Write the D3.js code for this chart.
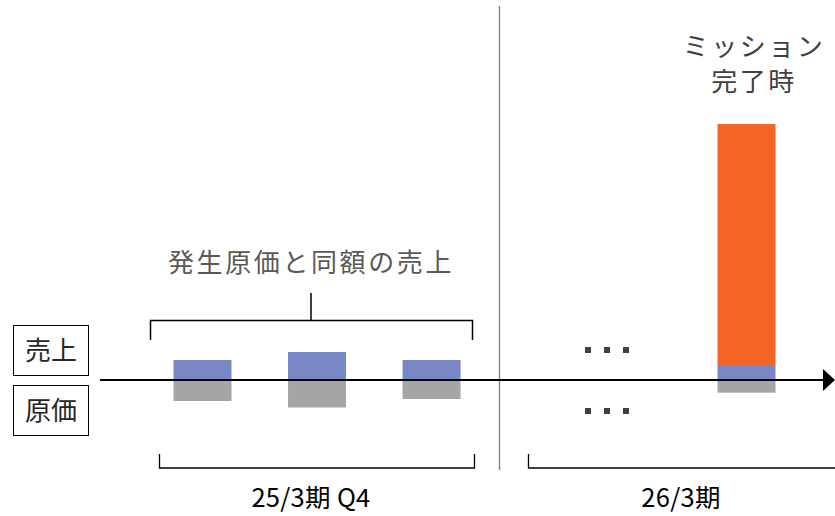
<!DOCTYPE html>
<html><head><meta charset="utf-8">
<script src="https://cdn.jsdelivr.net/npm/d3@7"></script>
<style>html,body{margin:0;padding:0;background:#fff;} svg{display:block;}</style>
</head><body>
<svg id="c" width="835" height="516"></svg>
<script>
// ---- data ----
const categories = ["Q4-1", "Q4-2", "Q4-3", "ミッション完了時"];
const periodOffset = [0, 1, 2, 4.75];           // category position along the time axis
const revenue = [20, 28, 20, 15];                // 売上 (blue, above axis)
const missionRevenue = [0, 0, 0, 241];           // mission completion revenue (orange)
const cost = [21, 27.5, 19, 12.7];               // 原価 (gray, below axis)
const rowLabels = ["売上", "原価"];
const periodLabels = ["25/3期 Q4", "26/3期"];
const bracketLabel = "発生原価と同額の売上";
const missionLabel = ["ミッション", "完了時"];

const svg = d3.select("#c");
const FONT = "'Noto Sans CJK JP', 'Noto Sans', sans-serif";

const x = d3.scaleLinear().domain([0, 4.75]).range([202.5, 746.5]);
const y = d3.scaleLinear().domain([0, 256]).range([380, 124]);
const barW = 58;

// vertical divider
svg.append("line").attr("x1", 499.5).attr("x2", 499.5).attr("y1", 6).attr("y2", 470)
  .attr("stroke", "#808080").attr("stroke-width", 1.3);

// bars
const g = svg.append("g");
categories.forEach((c, i) => {
  const cx = x(periodOffset[i]);
  g.append("rect").attr("x", cx - barW / 2).attr("width", barW)
    .attr("y", y(revenue[i])).attr("height", y(0) - y(revenue[i])).attr("fill", "#7788c4");
  if (missionRevenue[i] > 0) {
    g.append("rect").attr("x", cx - barW / 2).attr("width", barW)
      .attr("y", y(revenue[i] + missionRevenue[i])).attr("height", y(revenue[i]) - y(revenue[i] + missionRevenue[i]))
      .attr("fill", "#f26524");
  }
  g.append("rect").attr("x", cx - barW / 2).attr("width", barW)
    .attr("y", y(0)).attr("height", y(0) - y(cost[i])).attr("fill", "#a5a5a5");
});

// axis with arrow
svg.append("line").attr("x1", 100).attr("x2", 824).attr("y1", y(0)).attr("y2", y(0))
  .attr("stroke", "#000").attr("stroke-width", 1.8);
svg.append("path").attr("d", `M823,${y(0) - 11} L835,${y(0)} L823,${y(0) + 11} Z`).attr("fill", "#000");

// row labels boxes
rowLabels.forEach((t, i) => {
  const top = 325 + i * 60;
  svg.append("rect").attr("x", 13.5).attr("y", top + 0.5).attr("width", 75).attr("height", 50)
    .attr("fill", "none").attr("stroke", "#000").attr("stroke-width", 1);
  svg.append("text").attr("x", 51).attr("y", top + 35).attr("text-anchor", "middle")
    .attr("font-family", FONT).attr("font-size", 26).attr("fill", "#262626").text(t);
});

// ellipsis dots
[347, 408].forEach(yy => {
  [585, 604, 623].forEach(xx => {
    svg.append("rect").attr("x", xx).attr("y", yy).attr("width", 6).attr("height", 6).attr("fill", "#404040");
  });
});

// top bracket
svg.append("path").attr("d", "M150.5,340 V320.5 H472.5 V340").attr("fill", "none")
  .attr("stroke", "#000").attr("stroke-width", 1.5);
svg.append("line").attr("x1", 311).attr("x2", 311).attr("y1", 293).attr("y2", 320)
  .attr("stroke", "#000").attr("stroke-width", 1.5);
svg.append("text").attr("x", 311).attr("y", 272).attr("text-anchor", "middle")
  .attr("font-family", FONT).attr("font-size", 26).attr("letter-spacing", 2.6).attr("fill", "#595959")
  .text(bracketLabel);

// bottom brackets
svg.append("path").attr("d", "M159.5,454 V468 H474.5 V454").attr("fill", "none")
  .attr("stroke", "#000").attr("stroke-width", 1.3);
svg.append("path").attr("d", "M528.5,454 V468 H840").attr("fill", "none")
  .attr("stroke", "#000").attr("stroke-width", 1.3);
svg.append("text").attr("x", 311).attr("y", 507).attr("text-anchor", "middle")
  .attr("font-family", FONT).attr("font-size", 25.5).attr("letter-spacing", 0.3).attr("fill", "#000").text(periodLabels[0]);
svg.append("text").attr("x", 681).attr("y", 507).attr("text-anchor", "middle")
  .attr("font-family", FONT).attr("font-size", 25.5).attr("letter-spacing", 0.3).attr("fill", "#000").text(periodLabels[1]);

// mission label
missionLabel.forEach((t, i) => {
  svg.append("text").attr("x", 754).attr("y", 56 + i * 35).attr("text-anchor", "middle")
    .attr("font-family", FONT).attr("font-size", 26).attr("letter-spacing", 2.5)
    .attr("fill", "#404040").text(t);
});
</script>
</body></html>
